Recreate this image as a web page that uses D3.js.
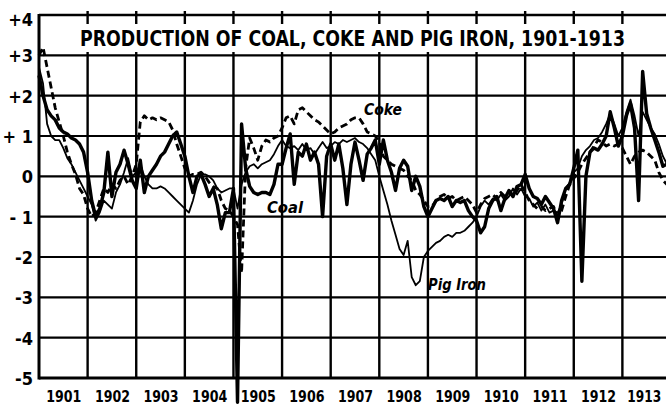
<!DOCTYPE html>
<html><head><meta charset="utf-8">
<script src="https://cdn.jsdelivr.net/npm/d3@7"></script>
<style>body{margin:0;background:#fff}svg{display:block}</style>
</head><body>
<svg id="c" width="666" height="407"></svg>
<script>
const years = ["1901","1902","1903","1904","1905","1906","1907","1908","1909","1910","1911","1912","1913"];
const yTickValues = [4,3,2,1,0,-1,-2,-3,-4,-5];
const yTickLabels = ["+4","+3","+2","+ 1","0","- 1","-2","-3","-4","-5"];
const titleText = "PRODUCTION OF COAL, COKE AND PIG IRON, 1901-1913";

// monthly values, Jan 1901 - Dec 1913
const coal = [
 2.5, 2.0, 1.65, 1.5, 1.4, 1.2, 1.1, 1.05, 0.95, 0.9, 0.8, 0.6,
 0.1, -0.6, -1.0, -0.8, -0.4, 0.6, -0.5, 0.1, 0.3, 0.65, 0.3, -0.1,
 -0.3, 0.4, -0.4, 0.0, 0.15, 0.3, 0.5, 0.6, 0.8, 1.0, 1.1, 0.8,
 0.5, 0.0, -0.4, 0.0, 0.05, -0.2, -0.5, -0.3, -0.7, -1.3, -0.9, -0.9,
 -0.3, -5.6, 1.3, 0.2, -0.25, -0.4, -0.45, -0.4, -0.4, -0.45, -0.2, 0.3,
 0.3, 0.7, 1.05, -0.2, 0.6, 0.5, 0.8, 0.4, 0.6, 0.3, -1.0, 0.5,
 0.8, 0.4, 0.8, 0.2, -0.7, 0.3, 0.85, 0.4, -0.1, 0.55, 0.7, 0.9,
 0.3, 0.9, 0.4, 0.1, -0.35, 0.2, 0.4, 0.25, -0.35, 0.0, -0.25, -0.75,
 -1.0, -0.8, -0.6, -0.55, -0.6, -0.5, -0.75, -0.6, -0.65, -0.6, -0.85, -1.0,
 -1.1, -1.4, -1.25, -0.8, -0.6, -0.5, -0.85, -0.55, -0.35, -0.5, -0.25, -0.2,
 0.05, -0.3, -0.5, -0.55, -0.7, -0.5, -0.65, -0.8, -1.15, -0.6, -0.3, -0.2,
 0.2, 0.65, -2.6, 0.0, 0.6, 0.7, 0.65, 0.8, 1.0, 1.6, 1.2, 0.75,
 1.0, 1.5, 1.8, 1.2, -0.6, 2.6, 1.55, 1.2, 0.9, 0.6, 0.25, 0.3
];
const coke = [
 3.0, 3.2, 2.7, 2.2, 1.7, 1.35, 1.0, 0.6, 0.3, 0.05, -0.3, -0.45,
 -0.8, -1.0, -0.9, -0.6, -0.3, -0.4, -0.2, -0.3, -0.1, 0.0, -0.2, 0.0,
 0.3, 1.35, 1.5, 1.4, 1.45, 1.4, 1.45, 1.4, 1.35, 1.15, 0.8, 0.5,
 0.2, 0.0, 0.05, 0.05, 0.1, 0.0, -0.15, -0.25, -0.3, -0.6, -0.8, -0.85,
 -1.0, -1.2, -2.4, 0.2, 0.95, 0.7, 0.4, 0.75, 0.9, 0.85, 0.95, 1.0,
 1.2, 1.45, 1.5, 1.3, 1.65, 1.7, 1.6, 1.5, 1.4, 1.35, 1.25, 1.15,
 1.05, 1.1, 1.2, 1.25, 1.3, 1.4, 1.45, 1.45, 1.3, 1.1, 1.05, 1.0,
 0.85, 0.5, 0.4, 0.3, 0.25, 0.2, 0.15, 0.0, -0.1, -0.35, -0.45, -0.6,
 -0.75, -0.75, -0.6, -0.5, -0.45, -0.55, -0.5, -0.6, -0.55, -0.5, -0.6, -0.7,
 -0.9, -0.7, -0.55, -0.5, -0.45, -0.55, -0.4, -0.5, -0.4, -0.5, -0.35, -0.2,
 -0.4, -0.6, -0.7, -0.8, -0.75, -0.85, -0.8, -0.75, -1.0, -0.85, -0.5, -0.2,
 -0.05, 0.1, 0.3, 0.45, 0.6, 0.75, 0.9, 0.85, 0.75, 0.8, 0.75, 0.8,
 0.7, 0.5, 0.3, 0.5, 0.6, 0.65, 0.6, 0.5, 0.4, 0.1, -0.1, -0.2
];
const pigIron = [
 2.7, 2.3, 1.3, 1.0, 0.9, 0.9, 0.7, 0.45, 0.3, 0.1, -0.1, -0.3,
 -0.5, -0.7, -1.1, -0.9, -0.6, -0.7, -0.8, -0.4, -0.2, 0.1, 0.45, 0.0,
 0.1, 0.3, 0.0, -0.2, -0.3, -0.3, -0.25, -0.3, -0.4, -0.5, -0.6, -0.7,
 -0.8, -0.9, -0.6, -0.2, 0.05, 0.05, 0.0, -0.1, -0.3, -0.4, -0.35, -0.3,
 -0.3, -0.8, -0.2, 0.1, 0.25, 0.3, 0.2, 0.3, 0.35, 0.4, 0.55, 0.75,
 0.9, 0.75, 0.7, 0.75, 0.65, 0.8, 0.65, 0.7, 0.55, 0.7, 0.85, 0.7,
 0.75, 0.85, 0.8, 0.9, 0.85, 0.9, 0.95, 0.85, 0.8, 0.7, 0.55, 0.4,
 0.0, -0.35, -0.7, -1.1, -1.45, -1.8, -1.95, -1.6, -2.5, -2.7, -2.6, -2.0,
 -1.85, -1.75, -1.65, -1.6, -1.5, -1.45, -1.5, -1.4, -1.4, -1.35, -1.25, -1.15,
 -1.0, -0.75, -0.6, -0.7, -0.55, -0.6, -0.45, -0.6, -0.5, -0.3, -0.45, -0.3,
 -0.5, -0.55, -0.75, -0.65, -0.85, -0.7, -0.9, -0.85, -0.9, -0.7, -0.3, -0.15,
 0.1, 0.2, 0.5, 0.65, 0.75, 0.9, 0.95, 1.1, 1.3, 1.55, 1.3, 1.0,
 1.2, 1.6, 1.9, 1.5, 1.0, 1.6, 1.4, 1.2, 1.05, 0.8, 0.5, 0.3
];

const svg = d3.select("#c");
svg.append("rect").attr("width",666).attr("height",407).attr("fill","#fff");
const x = d3.scaleLinear().domain([1901, 1914]).range([39, 671]);
const y = d3.scaleLinear().domain([-5, 4]).range([378, 15]);
const font = "'DejaVu Sans Condensed','DejaVu Sans',sans-serif";

// grid
const grid = svg.append("g").attr("stroke","#000");
grid.selectAll("line.h").data(d3.range(-4, 4)).join("line")
  .attr("x1", x(1901)).attr("x2", 666)
  .attr("y1", d => y(d)).attr("y2", d => y(d)).attr("stroke-width", 2.2);
grid.selectAll("line.v").data(d3.range(1902, 1914)).join("line")
  .attr("x1", d => x(d)).attr("x2", d => x(d))
  .attr("y1", y(4) - 4).attr("y2", y(-5)).attr("stroke-width", 2.4);
// frame
grid.append("line").attr("x1", x(1901)).attr("x2", 666).attr("y1", y(4)).attr("y2", y(4)).attr("stroke-width", 2.6);
grid.append("line").attr("x1", x(1901)).attr("x2", 666).attr("y1", y(-5)).attr("y2", y(-5)).attr("stroke-width", 3);
grid.append("line").attr("x1", x(1901)).attr("x2", x(1901)).attr("y1", y(4) - 1).attr("y2", y(-5) + 1.5).attr("stroke-width", 3);

// title box
svg.append("rect").attr("x", 76).attr("y", 24).attr("width", 553).attr("height", 28).attr("fill", "#fff");
svg.append("text").attr("x", 80).attr("y", 46).text(titleText)
  .attr("font-family", font).attr("font-weight", "bold").attr("font-size", 20.5)
  .attr("textLength", 545).attr("lengthAdjust", "spacingAndGlyphs");

// axes (labels)
const yAxis = svg.append("g").attr("transform", `translate(${x(1901)},0)`)
  .call(d3.axisLeft(y).tickValues(yTickValues).tickFormat((d, i) => yTickLabels[i]).tickSize(0).tickPadding(6));
yAxis.select(".domain").remove();
yAxis.selectAll("text").attr("font-family", font).attr("font-weight", "bold").attr("font-size", 18)
  .attr("fill", "#000").attr("dy", (d) => d === 4 ? "0.6em" : "0.36em");

const xAxis = svg.append("g").attr("transform", `translate(0,${y(-5)})`)
  .call(d3.axisBottom(x).tickValues(years.map(Number).map(v => v + 0.5)).tickFormat((d, i) => years[i]).tickSize(0).tickPadding(12));
xAxis.select(".domain").remove();
xAxis.selectAll("text").attr("font-family", font).attr("font-weight", "bold").attr("font-size", 16.5)
  .attr("fill", "#000")
  .attr("transform", (d, i) => i === years.length - 1 ? "translate(-3,0) scale(0.82,1)" : "scale(0.85,1)");

// series
const line = d3.line().x((d, i) => x(1901 + i / 12)).y(d => y(d));
svg.append("path").datum(pigIron).attr("d", line).attr("fill","none").attr("stroke","#000")
  .attr("stroke-width", 1.8).attr("stroke-linejoin","round");
svg.append("path").datum(coke).attr("d", line).attr("fill","none").attr("stroke","#000")
  .attr("stroke-width", 2.8).attr("stroke-dasharray","7,4").attr("stroke-linejoin","round");
svg.append("path").datum(coal).attr("d", line).attr("fill","none").attr("stroke","#000")
  .attr("stroke-width", 3.4).attr("stroke-linejoin","round");

// series labels
const lab = (t, xx, yy, w) => svg.append("text").attr("x", xx).attr("y", yy).text(t)
  .attr("font-family", font).attr("font-weight","bold").attr("font-style","italic").attr("font-size", 15)
  .attr("textLength", w).attr("lengthAdjust","spacingAndGlyphs");
lab("Coke", 364, 115, 38);
lab("Coal", 267, 213, 36);
lab("Pig Iron", 428, 290, 58);
</script>
</body></html>
